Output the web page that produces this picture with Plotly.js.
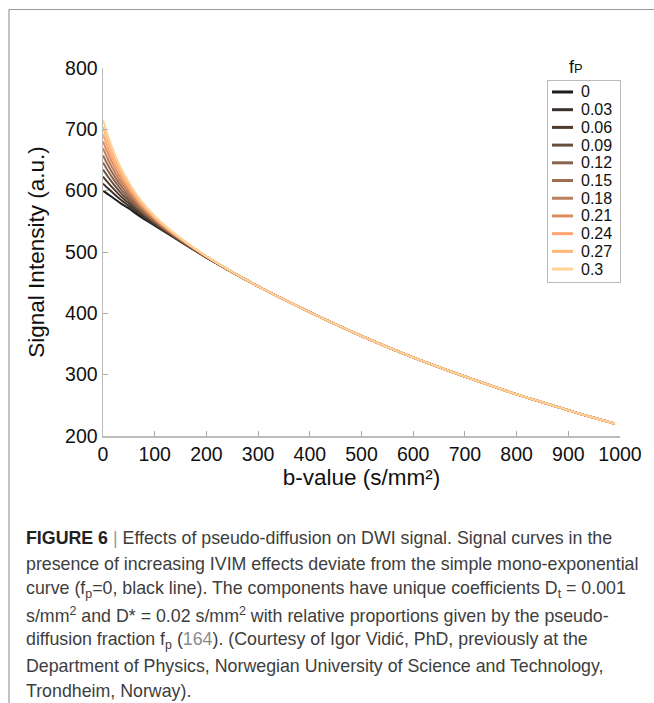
<!DOCTYPE html>
<html>
<head>
<meta charset="utf-8">
<script src="https://cdn.plot.ly/plotly-3.0.1.min.js"></script>
<style>
  html, body { margin: 0; padding: 0; background: #fff; }
  #chart { width: 654px; height: 703px; }
</style>
</head>
<body>
<div id="chart"></div>
<script>
// ---------------- DATA ----------------
const bValues = [0, 10, 20, 35, 50, 70, 100, 140, 200, 300, 400, 500, 600, 700, 800, 900, 990];

const sig_f000 = [600.0, 594.0, 588.0, 579.0, 571.0, 559.0, 543.0, 522.0, 491.0, 444, 402, 363, 328, 297, 268, 242, 220];
const sig_f003 = [611.5, 603.4, 595.7, 584.7, 575.2, 561.8, 544.6, 522.7, 491.2, 444, 402, 363, 328, 297, 268, 242, 220];
const sig_f006 = [623.0, 612.8, 603.4, 590.4, 579.5, 564.7, 546.1, 523.4, 491.4, 444, 402, 363, 328, 297, 268, 242, 220];
const sig_f009 = [634.5, 622.3, 611.1, 596.1, 583.7, 567.5, 547.7, 524.1, 491.6, 444, 402, 363, 328, 297, 268, 242, 220];
const sig_f012 = [646.0, 631.7, 618.8, 601.8, 587.9, 570.4, 549.2, 524.8, 491.8, 444, 402, 363, 328, 297, 268, 242, 220];
const sig_f015 = [657.5, 641.1, 626.6, 607.6, 592.2, 573.2, 550.8, 525.5, 492.1, 444, 402, 363, 328, 297, 268, 242, 220];
const sig_f018 = [669.0, 650.5, 634.3, 613.3, 596.4, 576.0, 552.4, 526.2, 492.3, 444, 402, 363, 328, 297, 268, 242, 220];
const sig_f021 = [680.5, 659.9, 642.0, 619.0, 600.6, 578.9, 553.9, 526.9, 492.5, 444, 402, 363, 328, 297, 268, 242, 220];
const sig_f024 = [692.0, 669.4, 649.7, 624.7, 604.8, 581.7, 555.5, 527.6, 492.7, 444, 402, 363, 328, 297, 268, 242, 220];
const sig_f027 = [703.5, 678.8, 657.4, 630.4, 609.1, 584.6, 557.0, 528.3, 492.9, 444, 402, 363, 328, 297, 268, 242, 220];
const sig_f030 = [715.0, 688.2, 665.1, 636.1, 613.3, 587.4, 558.6, 529.0, 493.1, 444, 402, 363, 328, 297, 268, 242, 220];

const fpLabels = ['0', '0.03', '0.06', '0.09', '0.12', '0.15', '0.18', '0.21', '0.24', '0.27', '0.3'];
const xTicks = [0, 100, 200, 300, 400, 500, 600, 700, 800, 900, 1000];
const yTicks = [200, 300, 400, 500, 600, 700, 800];

// ---------------- STYLE ----------------
const series = [sig_f000, sig_f003, sig_f006, sig_f009, sig_f012, sig_f015, sig_f018, sig_f021, sig_f024, sig_f027, sig_f030];
const colors = ['#1c1c1c', '#3b322d', '#4f3a2c', '#6a4e3c', '#87644f', '#9d6c4d', '#ba805d', '#dc8c5e', '#ffa470', '#ffb679', '#ffd196'];
const FONT = 'Liberation Sans, Arial, Helvetica, sans-serif';

const W = 654, H = 703;
const M = { l: 103, r: 34, t: 68, b: 267 };
const PW = W - M.l - M.r, PH = H - M.t - M.b;
const px2x = p => (p - M.l) / PW;
const px2y = p => (H - M.b - p) / PH;

const traces = [];
series.forEach((s, i) => {
  traces.push({
    x: bValues, y: s, type: 'scatter', mode: 'lines',
    line: { color: colors[i], width: 2, shape: 'spline', smoothing: 1 },
    name: fpLabels[i], showlegend: false, hoverinfo: 'skip'
  });
});

// legend built in an inset axis
fpLabels.forEach((lab, i) => {
  traces.push({
    x: [4, 25], y: [i, i], xaxis: 'x2', yaxis: 'y2',
    type: 'scatter', mode: 'lines', line: { color: colors[i], width: 3 },
    showlegend: false, hoverinfo: 'skip'
  });
});

const capFont = { family: FONT, size: 17.8, color: '#3d3d3d' };
const capLines = [
  "<b style='color:#222'>FIGURE 6</b> <span style='color:#999'>|</span> Effects of pseudo-diffusion on DWI signal. Signal curves in the",
  "presence of increasing IVIM effects deviate from the simple mono-exponential",
  "curve (f<sub>p</sub>=0, black line). The components have unique coefficients D<sub>t</sub> = 0.001",
  "s/mm<sup>2</sup> and D* = 0.02 s/mm<sup>2</sup> with relative proportions given by the pseudo-",
  "diffusion fraction f<sub>p</sub> (<span style='color:#8c8c8c'>164</span>). (Courtesy of Igor Vidić, PhD, previously at the",
  "Department of Physics, Norwegian University of Science and Technology,",
  "Trondheim, Norway)."
];
const capCenters = [538, 563.5, 589, 614.5, 640, 665.5, 691];

const annotations = capLines.map((t, i) => ({
  xref: 'paper', yref: 'paper', x: px2x(24), y: px2y(capCenters[i]),
  xanchor: 'left', yanchor: 'middle', showarrow: false, align: 'left',
  text: t, font: capFont
}));
fpLabels.forEach((lab, i) => {
  annotations.push({
    xref: 'x2', yref: 'y2', x: 31, y: i, xanchor: 'left', yanchor: 'middle',
    showarrow: false, text: lab, font: { family: FONT, size: 16, color: '#111' }
  });
});
annotations.push({
  xref: 'paper', yref: 'paper', x: px2x(576), y: px2y(67),
  xanchor: 'center', yanchor: 'middle', showarrow: false,
  text: "f<span style='font-size:13px'>P</span>",
  font: { family: FONT, size: 18, color: '#111' }
});

const shapes = [
  { type: 'line', xref: 'paper', yref: 'paper', x0: px2x(9), x1: px2x(660), y0: px2y(9.5), y1: px2y(9.5), line: { color: '#9a9a9a', width: 1.2 } },
  { type: 'line', xref: 'paper', yref: 'paper', x0: px2x(9), x1: px2x(9), y0: px2y(9.5), y1: px2y(710), line: { color: '#9a9a9a', width: 1.2 } }
];

const layout = {
  width: W, height: H,
  margin: M,
  paper_bgcolor: '#fff', plot_bgcolor: '#fff',
  font: { family: FONT, color: '#111' },
  showlegend: false,
  xaxis: {
    range: [0, 1000], tickvals: xTicks, ticktext: xTicks.map(String),
    ticks: 'inside', ticklen: 5, tickcolor: '#aaa', tickwidth: 1,
    showline: true, linecolor: '#bbb', linewidth: 1.5,
    showgrid: false, zeroline: false,
    tickfont: { family: FONT, size: 19.5, color: '#111' },
    title: { text: 'b-value (s/mm²)', font: { family: FONT, size: 22.5, color: '#111' }, standoff: 1 },
    automargin: false
  },
  yaxis: {
    range: [200, 800], tickvals: yTicks, ticktext: yTicks.map(String),
    ticks: 'inside', ticklen: 5, tickcolor: '#aaa', tickwidth: 1,
    showline: true, linecolor: '#bbb', linewidth: 1.5,
    showgrid: false, zeroline: false,
    tickfont: { family: FONT, size: 19.5, color: '#111' },
    title: { text: 'Signal Intensity (a.u.)', font: { family: FONT, size: 22.5, color: '#111' }, standoff: 14 },
    automargin: false
  },
  xaxis2: {
    domain: [px2x(548), px2x(620)], anchor: 'y2', range: [0, 72],
    showline: true, mirror: true, linecolor: '#bbb', linewidth: 1,
    showgrid: false, zeroline: false, showticklabels: false, ticks: '', fixedrange: true
  },
  yaxis2: {
    domain: [px2y(282), px2y(81)], anchor: 'x2', range: [10.73, -0.62],
    showline: true, mirror: true, linecolor: '#bbb', linewidth: 1,
    showgrid: false, zeroline: false, showticklabels: false, ticks: '', fixedrange: true
  },
  annotations: annotations,
  shapes: shapes
};

Plotly.newPlot('chart', traces, layout, { staticPlot: true, displayModeBar: false });
</script>
</body>
</html>
